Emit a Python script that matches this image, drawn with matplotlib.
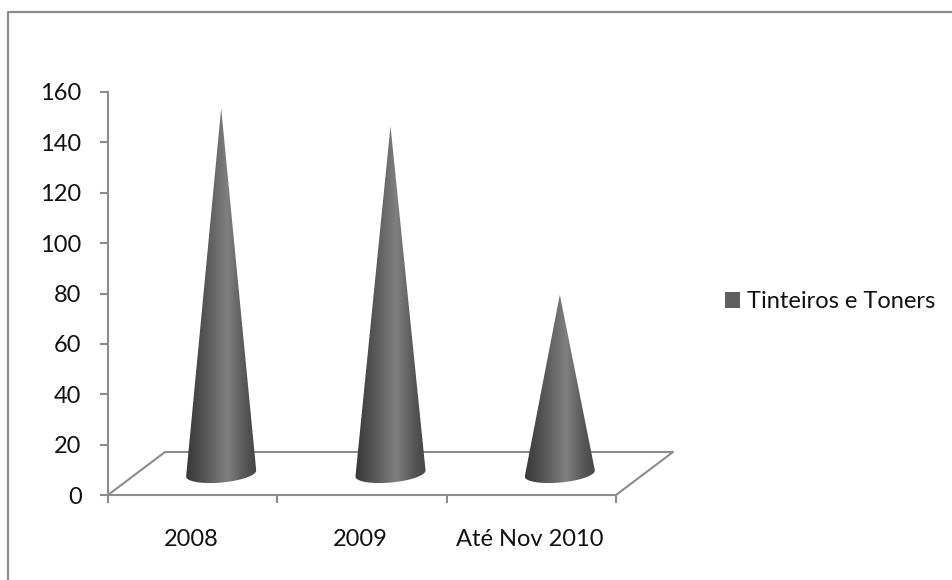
import numpy as np
import matplotlib
matplotlib.use('Agg')
import matplotlib.pyplot as plt
from matplotlib.lines import Line2D
from matplotlib.patches import Patch, PathPatch
from matplotlib.path import Path

plt.rcParams['font.family'] = ['Lato', 'DejaVu Sans']

categories = ['2008', '2009', 'Até Nov 2010']
values = [145, 138, 71]
series_name = 'Tinteiros e Toners'
y_ticks = [0, 20, 40, 60, 80, 100, 120, 140, 160]

W, H = 953, 580
LINE = '#8c8c8c'
TEXT = '#111111'
FS = 17

fig = plt.figure(figsize=(W / 100, H / 100), dpi=100)
# plot area in pixels: front floor edge 108..616, y axis 495..92
ax = fig.add_axes([108 / W, 1 - 495 / H, 508 / W, 403 / H])
ax.set_xlim(0, len(categories))
ax.set_ylim(0, 160)

# 3d floor offset in data units
depth_x = 57 / (508 / len(categories))
depth_y = 43 / (403 / 160)

ax.spines['top'].set_visible(False)
ax.spines['right'].set_visible(False)
ax.spines['left'].set_color(LINE)
ax.spines['bottom'].set_color(LINE)
ax.spines['left'].set_linewidth(1.5)
ax.spines['bottom'].set_linewidth(1.5)
ax.set_yticks(y_ticks)
ax.set_xticks(range(len(categories) + 1))
ax.set_xticklabels([])
ax.tick_params(axis='both', color=LINE, width=1.5, length=6, labelsize=FS, pad=13, labelcolor=TEXT)

# floor
ax.plot([0, depth_x, len(categories) + depth_x, len(categories)],
        [0, depth_y, depth_y, 0], color=LINE, lw=1.5, clip_on=False, zorder=1)

# category labels sit under the middle of each slot
for i, c in enumerate(categories):
    ax.annotate(c, (i + 0.5, 0), xytext=(-1, -32), textcoords='offset points', ha='center', va='center',
                fontsize=FS, color=TEXT, annotation_clip=False)

# cones
half_w = 0.207
ell_h = 3.6
skew = 1.2
gradient = np.interp(np.linspace(0, 1, 256), [0, 0.25, 0.58, 0.85, 1], [0.22, 0.33, 0.50, 0.33, 0.27])[None, :]
for i, v in enumerate(values):
    cx = i + 0.5 + depth_x / 2
    base = depth_y / 2
    t = np.linspace(np.pi, 2 * np.pi, 40)
    xs = cx + half_w * np.cos(t)
    ys = base + ell_h * np.sin(t) + skew * np.cos(t)
    pts = list(zip(xs, ys)) + [(cx, base + v)]
    path = Path(pts + [pts[0]], closed=True)
    patch = PathPatch(path, transform=ax.transData, fc='none', ec='none')
    ax.add_patch(patch)
    im = ax.imshow(gradient, cmap='gray', vmin=0, vmax=1, aspect='auto',
                   extent=[cx - half_w, cx + half_w, base - 10, base + v + 1], zorder=3)
    im.set_clip_path(patch)

ax.set_xlim(0, len(categories))
ax.set_ylim(0, 160)

ax.legend(handles=[Patch(fc='#5f5f5f', ec='none', label=series_name)], loc='center left',
          bbox_to_anchor=((725 - 108) / 508, (495 - 302) / 403), frameon=False, fontsize=FS,
          labelcolor=TEXT, handlelength=0.63, handleheight=0.63, handletextpad=0.3,
          borderpad=0, borderaxespad=0)

# chart border, only top and left fall inside the crop
fig.add_artist(Line2D([8 / W, 8 / W, 1], [0, 1 - 12 / H, 1 - 12 / H], transform=fig.transFigure,
                      color=LINE, lw=1.6))

fig.savefig('out.png', dpi=100)
